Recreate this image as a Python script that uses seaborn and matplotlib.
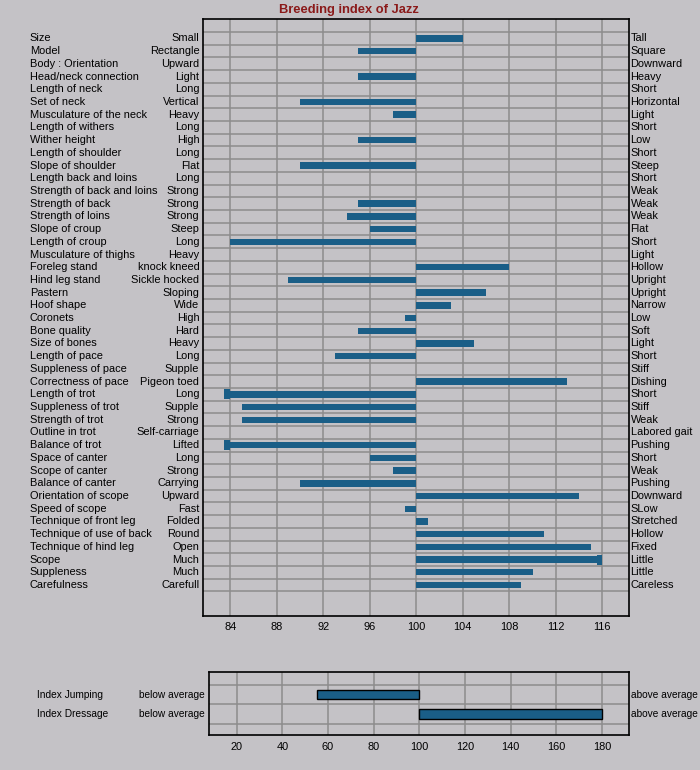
import numpy as np
import matplotlib.pyplot as plt
import seaborn as sns

# breeding index traits, top to bottom
traits = ['Size', 'Model', 'Body : Orientation', 'Head/neck connection', 'Length of neck',
          'Set of neck', 'Musculature of the neck', 'Length of withers', 'Wither height',
          'Length of shoulder', 'Slope of shoulder', 'Length back and loins',
          'Strength of back and loins', 'Strength of back', 'Strength of loins',
          'Slope of croup', 'Length of croup', 'Musculature of thighs', 'Foreleg stand',
          'Hind leg stand', 'Pastern', 'Hoof shape', 'Coronets', 'Bone quality',
          'Size of bones', 'Length of pace', 'Suppleness of pace', 'Correctness of pace',
          'Length of trot', 'Suppleness of trot', 'Strength of trot', 'Outline in trot',
          'Balance of trot', 'Space of canter', 'Scope of canter', 'Balance of canter',
          'Orientation of scope', 'Speed of scope', 'Technique of front leg',
          'Technique of use of back', 'Technique of hind leg', 'Scope', 'Suppleness',
          'Carefulness']
low_words = ['Small', 'Rectangle', 'Upward', 'Light', 'Long', 'Vertical', 'Heavy', 'Long',
             'High', 'Long', 'Flat', 'Long', 'Strong', 'Strong', 'Strong', 'Steep', 'Long',
             'Heavy', 'knock kneed', 'Sickle hocked', 'Sloping', 'Wide', 'High', 'Hard',
             'Heavy', 'Long', 'Supple', 'Pigeon toed', 'Long', 'Supple', 'Strong',
             'Self-carriage', 'Lifted', 'Long', 'Strong', 'Carrying', 'Upward', 'Fast',
             'Folded', 'Round', 'Open', 'Much', 'Much', 'Carefull']
high_words = ['Tall', 'Square', 'Downward', 'Heavy', 'Short', 'Horizontal', 'Light', 'Short',
              'Low', 'Short', 'Steep', 'Short', 'Weak', 'Weak', 'Weak', 'Flat', 'Short',
              'Light', 'Hollow', 'Upright', 'Upright', 'Narrow', 'Low', 'Soft', 'Light',
              'Short', 'Stiff', 'Dishing', 'Short', 'Stiff', 'Weak', 'Labored gait',
              'Pushing', 'Short', 'Weak', 'Pushing', 'Downward', 'SLow', 'Stretched',
              'Hollow', 'Fixed', 'Little', 'Little', 'Careless']
scores = [104, 95, 100, 95, 100, 90, 98, 100, 95, 100, 90, 100, 100, 95, 94, 96, 84, 100,
          108, 89, 106, 103, 99, 95, 105, 93, 100, 113, 83.5, 85, 85, 100, 83.5, 96, 98,
          90, 114, 99, 101, 111, 115, 116, 110, 109]
# rows whose bar ends in a thick end block
capped = ['Length of trot', 'Balance of trot', 'Scope']

index_names = ['Index Jumping', 'Index Dressage']
index_scores = [55, 180]

BASE = 100
BASE_INDEX = 100

sns.set_theme(style='white')
plt.rcParams['font.family'] = ['Liberation Sans', 'DejaVu Sans']
plt.rcParams['text.color'] = 'black'
plt.rcParams['xtick.color'] = 'black'
plt.rcParams['ytick.color'] = 'black'

BG = '#c4c2c6'
BAR = '#1a5e87'
GRID = '#8c8c8c'
FS = 7.9

fig = plt.figure(figsize=(7, 7.7), dpi=100, facecolor=BG)

# ---- main chart
ax = fig.add_axes([0.2896, 0.2006, 0.6094, 0.7743], facecolor=BG)
rows = np.arange(len(traits))
dev = np.array(scores) - BASE
ax.barh(rows, dev, left=BASE, height=0.5, color=BAR, linewidth=0, zorder=3)
for i, t in enumerate(traits):
    if t in capped:
        s = scores[i]
        side = -0.5 if s > BASE else 0.5
        ax.barh(i, side, left=s, height=0.78, color=BAR, linewidth=0, zorder=3)

ax.set_xlim(81.63, 118.32)
ax.set_ylim(45.4, -1.5)
ax.set_xticks(np.arange(84, 117, 4))
ax.set_yticks(np.arange(-0.5, 44, 1))
ax.set_yticklabels([])
ax.grid(True, color=GRID, linewidth=1.1, zorder=0)
ax.tick_params(axis='both', length=0, labelsize=FS, pad=5, labelcolor='black')
for sp in ax.spines.values():
    sp.set_color('black')
    sp.set_linewidth(1.2)

tr = ax.get_yaxis_transform()
for i in rows:
    ax.text(-0.405, i, traits[i], transform=tr, ha='left', va='center', fontsize=FS)
    ax.text(-0.008, i, low_words[i], transform=tr, ha='right', va='center', fontsize=FS)
    ax.text(1.003, i, high_words[i], transform=tr, ha='left', va='center', fontsize=FS)

fig.text(0.499, 0.987, 'Breeding index of Jazz', ha='center', va='center',
         fontsize=9.3, fontweight='bold', color='#8b1a1a')

# ---- index chart
FS2 = 7.3
ax2 = fig.add_axes([0.298, 0.0451, 0.601, 0.0818], facecolor=BG)
irows = np.arange(len(index_names))
ax2.barh(irows, np.array(index_scores) - BASE_INDEX, left=BASE_INDEX, height=0.47,
         color=BAR, edgecolor='black', linewidth=1, zorder=3)
ax2.set_xlim(7.7, 192)
ax2.set_ylim(2.1, -1.15)
ax2.set_xticks(np.arange(20, 181, 20))
ax2.set_yticks([-0.5, 0.5, 1.5])
ax2.set_yticklabels([])
ax2.grid(True, color=GRID, linewidth=1.1, zorder=0)
ax2.tick_params(axis='both', length=0, labelsize=FS, pad=5, labelcolor='black')
for sp in ax2.spines.values():
    sp.set_color('black')
    sp.set_linewidth(1.2)

tr2 = ax2.get_yaxis_transform()
for i in irows:
    ax2.text(-0.408, i, index_names[i], transform=tr2, ha='left', va='center',
             fontsize=FS2)
    ax2.text(-0.008, i, 'below average', transform=tr2, ha='right', va='center',
             fontsize=FS2)
    ax2.text(1.003, i, 'above average', transform=tr2, ha='left', va='center',
             fontsize=FS2)

fig.savefig('out.png', dpi=100, facecolor=BG)
